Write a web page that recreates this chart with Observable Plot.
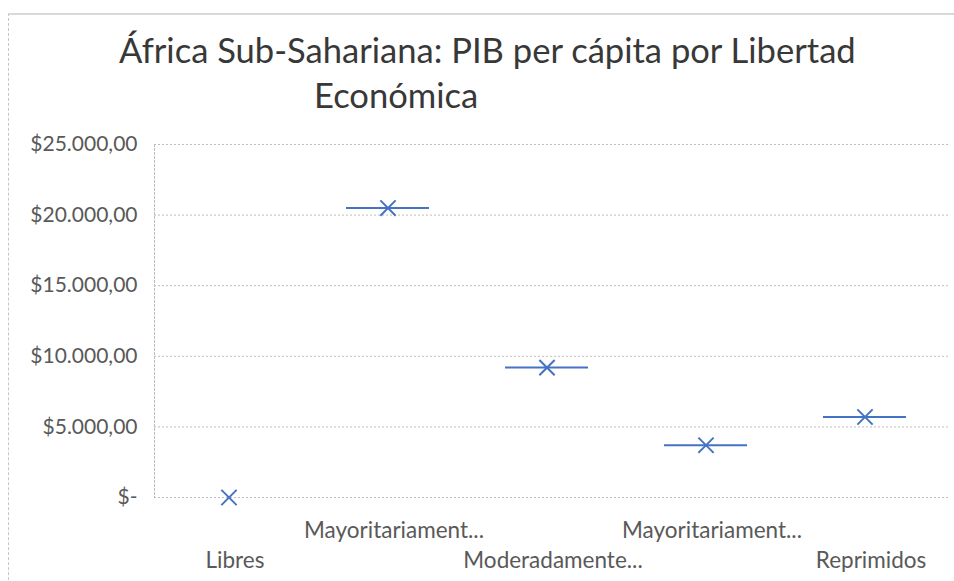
<!DOCTYPE html>
<html><head><meta charset="utf-8">
<script src="https://cdn.jsdelivr.net/npm/d3@7"></script>
<script src="https://cdn.jsdelivr.net/npm/@observablehq/plot@0.6"></script>
<style>
body{margin:0;background:#fff;font-family:Lato,sans-serif;}
#wrap{position:relative;width:954px;height:581px;overflow:hidden;background:#fff;}
#border{position:absolute;left:8px;top:13px;width:980px;height:620px;border-top:2px solid #d9d9d9;border-left:1px dashed #c6c6c6;}
#title{position:absolute;left:0;top:0;}
#chart{position:absolute;left:0;top:120px;}
</style></head><body>
<div id="wrap"><div id="border"></div><svg id="title" width="954" height="120"></svg><div id="chart"></div></div>
<script>
const categories = ["Libres","Mayoritariamente libres","Moderadamente libres","Mayoritariamente no libres","Reprimidos"];
const categoryLabels = ["Libres","Mayoritariament...","Moderadamente...","Mayoritariament...","Reprimidos"];
const meanValues = [0, 20500, 9200, 3700, 5700];
const boxValues = [null, 20500, 9200, 3700, 5700];
const yTicks = [0, 5000, 10000, 15000, 20000, 25000];
const yTickLabels = ["$-", "$5.000,00", "$10.000,00", "$15.000,00", "$20.000,00", "$25.000,00"];
const titleLines = ["África Sub-Sahariana: PIB per cápita por Libertad", "Económica"];

// title
const tsvg = d3.select("#title");
const t1 = tsvg.append("text").attr("x", 119).attr("y", 62.7)
  .style("font-family", "Lato, sans-serif").style("font-size", "100px").attr("fill", "#383838").text(titleLines[0]);
const w1 = t1.node().getComputedTextLength();
const fs = 100 * 737 / w1;
t1.style("font-size", fs + "px");
tsvg.append("text").attr("x", 314).attr("y", 107.7)
  .style("font-family", "Lato, sans-serif").style("font-size", fs + "px").attr("fill", "#383838").text(titleLines[1]);

const data = categories.map((c, i) => ({cat: c, mean: meanValues[i], box: boxValues[i]}));
const lab = d => categoryLabels[categories.indexOf(d)];
const plot = Plot.plot({
  width: 954, height: 461,
  marginTop: 24, marginBottom: 84, marginLeft: 154, marginRight: 4,
  style: {fontFamily: "Lato, sans-serif", fontSize: "21px", color: "#595959", background: "transparent"},
  x: {domain: categories, padding: 0, axis: null, label: null},
  y: {domain: [0, 25000], axis: null, label: null},
  marks: [
    Plot.gridY(yTicks, {stroke: "#bdbdbd", strokeOpacity: 1, strokeDasharray: "2,2"}),
    Plot.frame({anchor: "left", stroke: "#bdbdbd", strokeDasharray: "2,2"}),
    Plot.axisY(yTicks, {tickSize: 0, tickPadding: 17, label: null, tickFormat: d => yTickLabels[yTicks.indexOf(d)]}),
    Plot.axisX(categories.filter((d, i) => i % 2 === 1), {tickSize: 0, tickPadding: 25, label: null, fontSize: 22.5, tickFormat: lab}),
    Plot.axisX(categories.filter((d, i) => i % 2 === 0), {tickSize: 0, tickPadding: 55, label: null, fontSize: 22.5, tickFormat: lab}),
    Plot.tickY(data.filter(d => d.box != null), {x: "cat", y: "box", stroke: "#4472C4", strokeWidth: 2, insetLeft: 38, insetRight: 38, dx: -6}),
    Plot.dot(data, {x: "cat", y: "mean", symbol: "times", r: 7, stroke: "#4472C4", strokeWidth: 2, dx: -6})
  ]
});
document.getElementById("chart").appendChild(plot);
</script>
</body></html>
